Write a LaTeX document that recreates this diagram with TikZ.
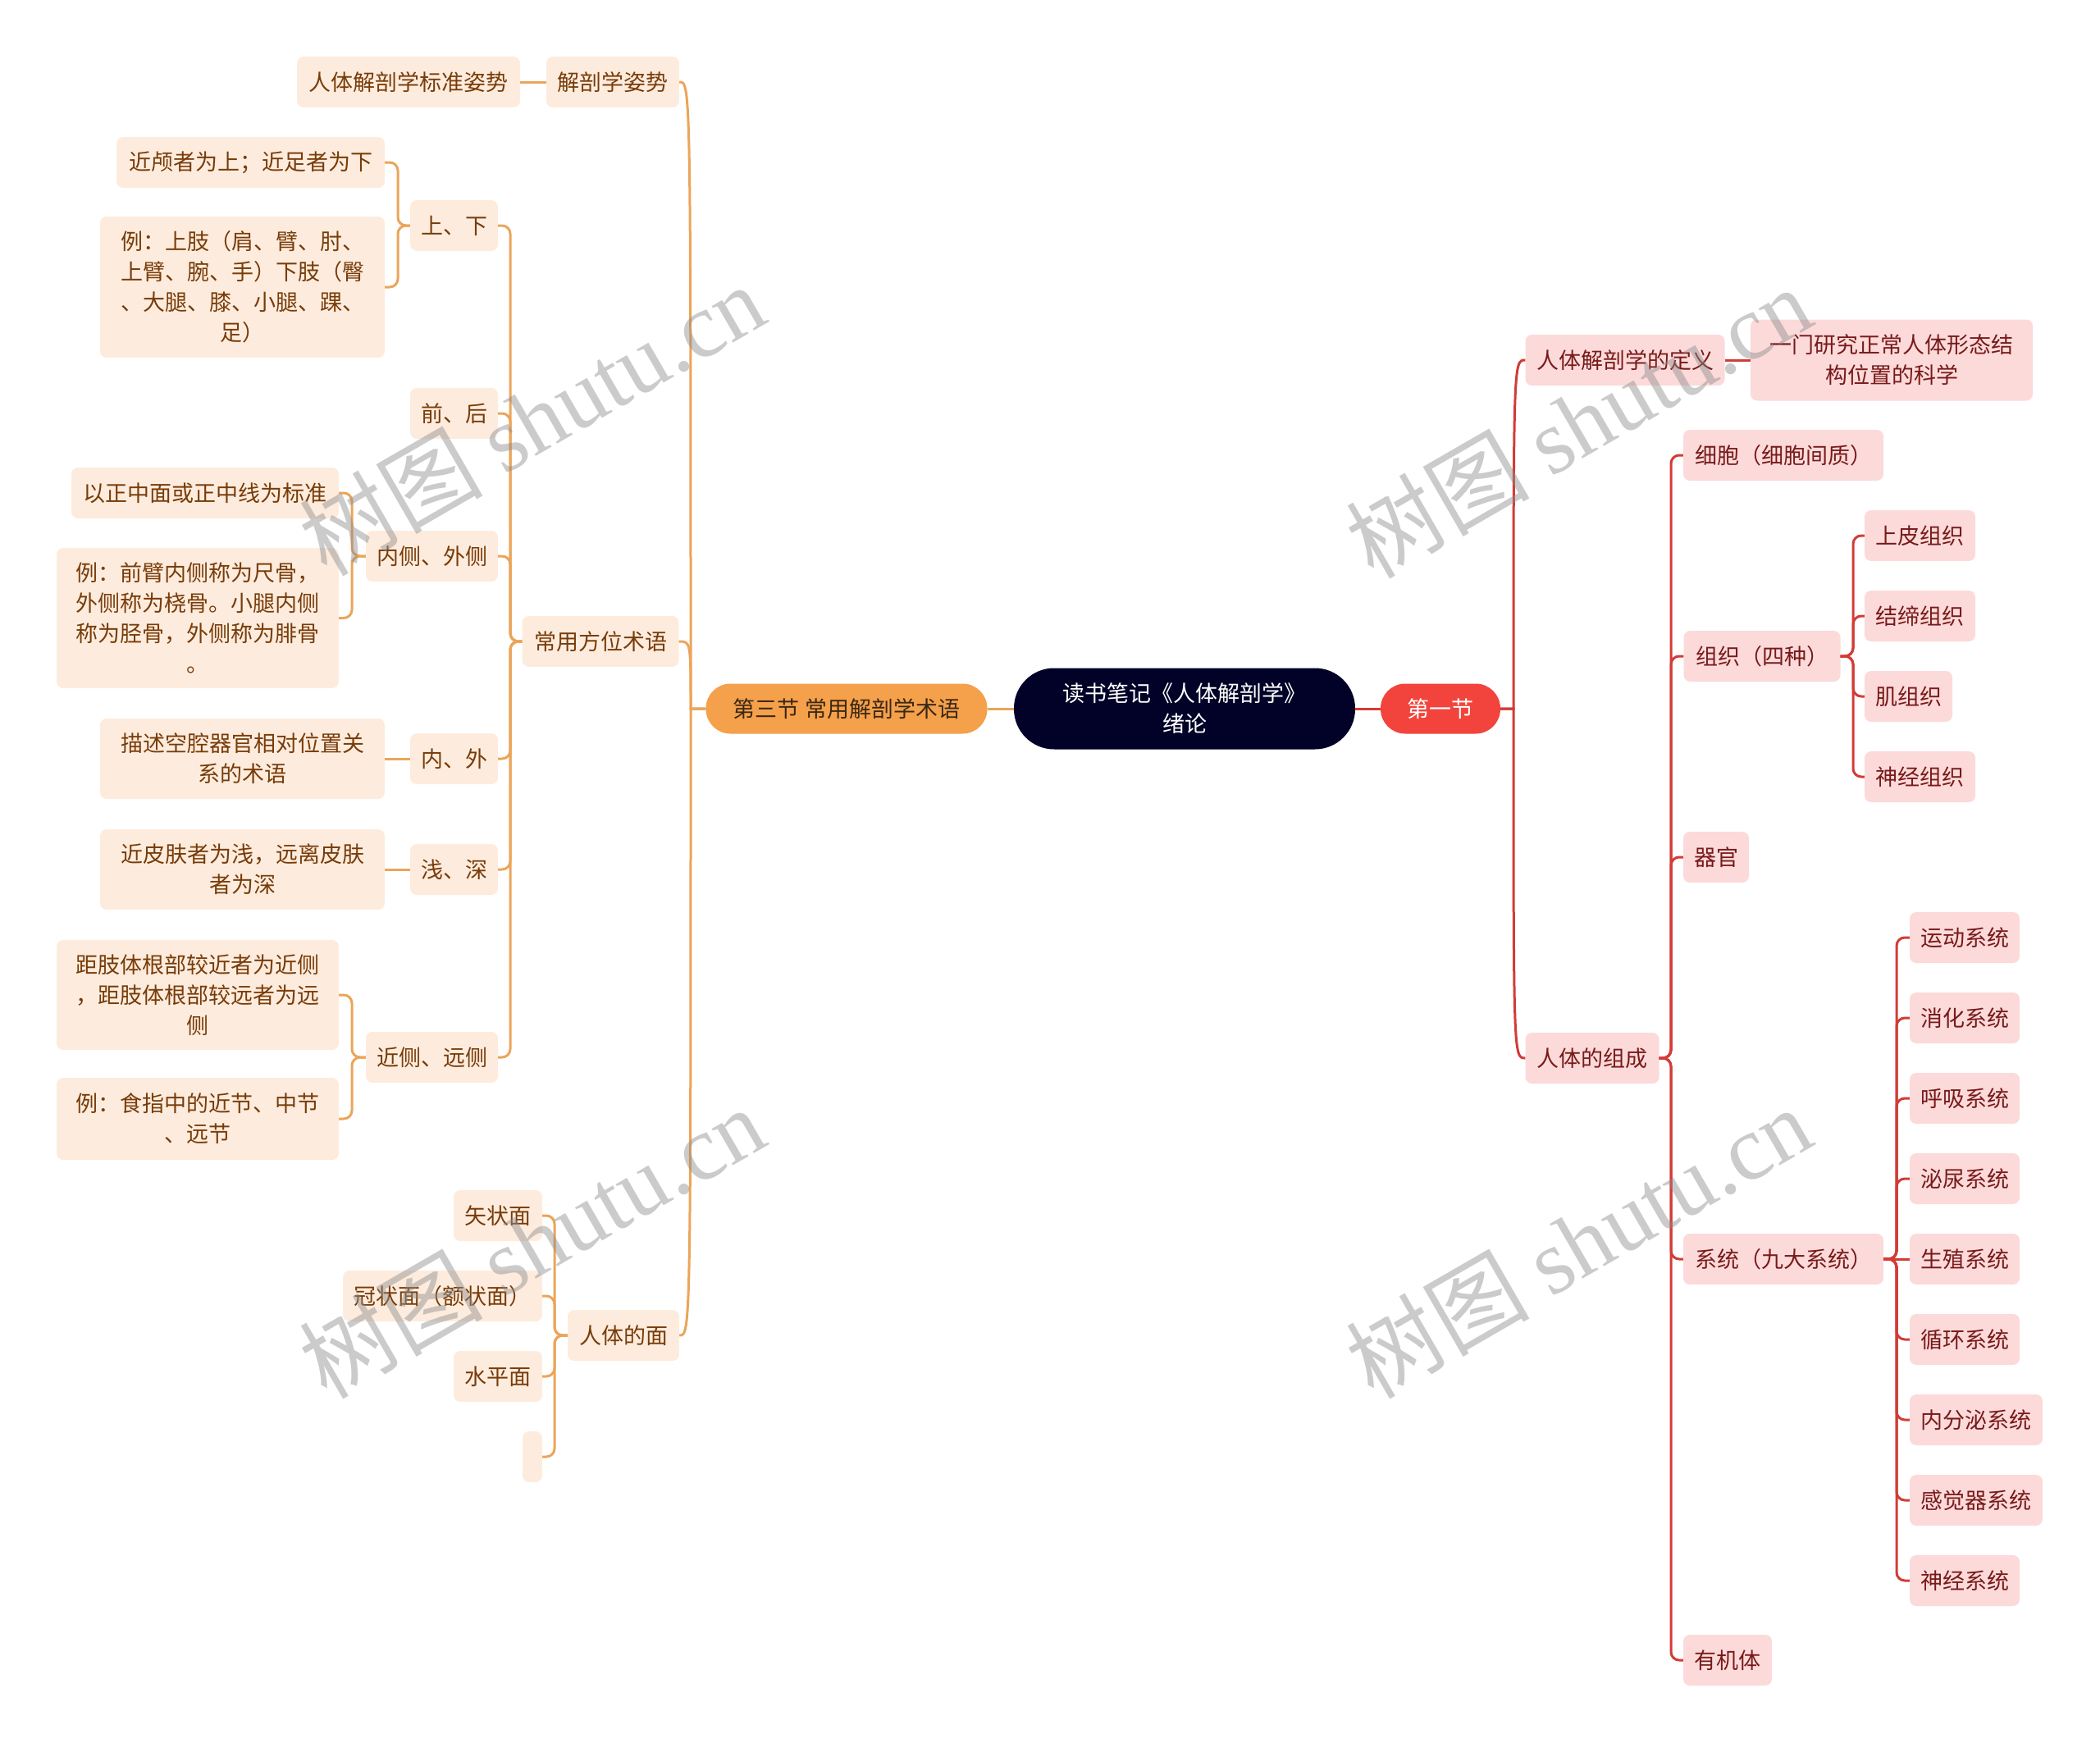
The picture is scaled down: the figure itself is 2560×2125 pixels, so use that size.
\documentclass[tikz,border=0pt]{standalone}
\usepackage{fontspec}
\setmainfont{Noto Sans CJK SC}
\newfontfamily\wmlatin{Liberation Serif}
\usetikzlibrary{calc}
\definecolor{lfill}{HTML}{FDECDD}
\definecolor{ltext}{HTML}{783C0A}
\definecolor{lline}{HTML}{EBA55A}
\definecolor{rfill}{HTML}{FCDADA}
\definecolor{rtext}{HTML}{781A1A}
\definecolor{rline}{HTML}{D23C37}
\definecolor{rootfill}{HTML}{020228}
\definecolor{onefill}{HTML}{F2443C}
\definecolor{threefill}{HTML}{F5A04B}
\definecolor{threetext}{HTML}{3A2814}
\newcommand\mmfs{\fontsize{27}{37}\selectfont}
\begin{document}
\begin{tikzpicture}[x=1pt,y=-1pt,
  basebox/.style={rectangle, inner sep=0pt, align=center, font=\mmfs},
  lbox/.style={basebox, rounded corners=8pt, fill=lfill, text=ltext, minimum height=62},
  rbox/.style={basebox, rounded corners=8pt, fill=rfill, text=rtext, minimum height=62},
  oconn/.style={draw=lline, line width=3pt, rounded corners=10pt},
  rconn/.style={draw=rline, line width=3pt, rounded corners=10pt},
  wm/.style={rotate=30, text=black!45, opacity=0.45, font=\fontsize{112}{112}\selectfont}]
\useasboundingbox (0,0) rectangle (2560,2125);

% central nodes
\node[basebox, fill=rootfill, text=white, rounded corners=49pt, minimum width=416, minimum height=99] (root) at (1444,864) {读书笔记《人体解剖学》\\绪论};
\node[basebox, fill=onefill, text=white, rounded corners=30pt, minimum width=146, minimum height=61] (n1) at (1756,864) {第一节};
\node[basebox, fill=threefill, text=threetext, rounded corners=30pt, minimum width=343, minimum height=61] (n3) at (1032,864) {第三节 常用解剖学术语};

% right side
\node[rbox, minimum width=243] (def) at (1981,439) {人体解剖学的定义};
\node[rbox, minimum width=344, minimum height=99] (defc) at (2306,439) {一门研究正常人体形态结\\构位置的科学};
\node[rbox, minimum width=163] (comp) at (1941,1290) {人体的组成};
\node[rbox, minimum width=244] (cell) at (2174,555) {细胞（细胞间质）};
\node[rbox, minimum width=191] (tis) at (2148,800) {组织（四种）};
\node[rbox, minimum width=80] (org) at (2092,1045) {器官};
\node[rbox, minimum width=244] (sys) at (2174,1535) {系统（九大系统）};
\node[rbox, minimum width=108] (orgm) at (2106,2024) {有机体};
\node[rbox, minimum width=135] (t1) at (2340.5,653) {上皮组织};
\node[rbox, minimum width=135] (t2) at (2340.5,751) {结缔组织};
\node[rbox, minimum width=107] (t3) at (2326.5,849) {肌组织};
\node[rbox, minimum width=135] (t4) at (2340.5,947) {神经组织};
\node[rbox, minimum width=134] (s1) at (2395,1143) {运动系统};
\node[rbox, minimum width=134] (s2) at (2395,1241) {消化系统};
\node[rbox, minimum width=134] (s3) at (2395,1339) {呼吸系统};
\node[rbox, minimum width=134] (s4) at (2395,1437) {泌尿系统};
\node[rbox, minimum width=134] (s5) at (2395,1535) {生殖系统};
\node[rbox, minimum width=134] (s6) at (2395,1633) {循环系统};
\node[rbox, minimum width=162] (s7) at (2409,1731) {内分泌系统};
\node[rbox, minimum width=162] (s8) at (2409,1829) {感觉器系统};
\node[rbox, minimum width=134] (s9) at (2395,1927) {神经系统};

% left side
\node[lbox, minimum width=162] (pos) at (747,100) {解剖学姿势};
\node[lbox, minimum width=272] (posc) at (498,100) {人体解剖学标准姿势};
\node[lbox, minimum width=191] (dir) at (732,782) {常用方位术语};
\node[lbox, minimum width=136] (face) at (760,1628) {人体的面};
\node[lbox, minimum width=107] (ud) at (553.5,275) {上、下};
\node[lbox, minimum width=107] (fb) at (553.5,504) {前、后};
\node[lbox, minimum width=161] (mi) at (526.5,678) {内侧、外侧};
\node[lbox, minimum width=107] (io) at (553.5,925) {内、外};
\node[lbox, minimum width=107] (sd) at (553.5,1060) {浅、深};
\node[lbox, minimum width=161] (pd) at (526.5,1289) {近侧、远侧};
\node[lbox, minimum width=327] (ud1) at (305.5,198) {近颅者为上；近足者为下};
\node[lbox, minimum width=347, minimum height=172] (ud2) at (295.5,350) {例：上肢（肩、臂、肘、\\上臂、腕、手）下肢（臀\\、大腿、膝、小腿、踝、\\足）};
\node[lbox, minimum width=326] (mi1) at (250,601) {以正中面或正中线为标准};
\node[lbox, minimum width=344, minimum height=171] (mi2) at (241,753.5) {例：前臂内侧称为尺骨，\\外侧称为桡骨。小腿内侧\\称为胫骨，外侧称为腓骨\\。};
\node[lbox, minimum width=347, minimum height=98] (io1) at (295.5,925) {描述空腔器官相对位置关\\系的术语};
\node[lbox, minimum width=347, minimum height=98] (sd1) at (295.5,1060) {近皮肤者为浅，远离皮肤\\者为深};
\node[lbox, minimum width=344, minimum height=134] (pd1) at (241,1213) {距肢体根部较近者为近侧\\，距肢体根部较远者为远\\侧};
\node[lbox, minimum width=344, minimum height=100] (pd2) at (241,1364) {例：食指中的近节、中节\\、远节};
\node[lbox, minimum width=108] (f1) at (607,1482) {矢状面};
\node[lbox, minimum width=243] (f2) at (539.5,1580) {冠状面（额状面）};
\node[lbox, minimum width=108] (f3) at (607,1678) {水平面};
\node[lbox, minimum width=24] (f4) at (649,1776) {};

% connectors: centre
\draw[rconn] (root.east) -- (n1.west);
\draw[oconn] (root.west) -- (n3.east);

% level 1 -> 2 (curves)
\coordinate (T1) at (1845,864);
\foreach \c in {def,comp}
  \draw[rconn, rounded corners=0pt] (n1.east) -- (T1) .. controls (T1 |- \c.west) and (T1 |- \c.west) .. (\c.west);
\coordinate (T3) at (842,864);
\foreach \c in {pos,dir,face}
  \draw[oconn, rounded corners=0pt] (n3.west) -- (T3) .. controls (T3 |- \c.east) and (T3 |- \c.east) .. (\c.east);

% right elbows
\draw[rconn] (def.east) -- (defc.west);
\coordinate (Tc) at (2037,1290);
\foreach \c in {cell,tis,org,sys,orgm}
  \draw[rconn] (comp.east) -- (Tc) |- (\c.west);
\coordinate (Tt) at (2259,800);
\foreach \c in {t1,t2,t3,t4}
  \draw[rconn] (tis.east) -- (Tt) |- (\c.west);
\coordinate (Ts) at (2312,1535);
\foreach \c in {s1,s2,s3,s4,s6,s7,s8,s9}
  \draw[rconn] (sys.east) -- (Ts) |- (\c.west);
\draw[rconn] (sys.east) -- (s5.west);

% left elbows
\draw[oconn] (pos.west) -- (posc.east);
\coordinate (Td) at (622,782);
\foreach \c in {ud,fb,mi,io,sd,pd}
  \draw[oconn] (dir.west) -- (Td) |- (\c.east);
\coordinate (Tud) at (485,275);
\foreach \c in {ud1,ud2}
  \draw[oconn] (ud.west) -- (Tud) |- (\c.east);
\coordinate (Tmi) at (429,678);
\foreach \c in {mi1,mi2}
  \draw[oconn] (mi.west) -- (Tmi) |- (\c.east);
\draw[oconn] (io.west) -- (io1.east);
\draw[oconn] (sd.west) -- (sd1.east);
\coordinate (Tpd) at (429,1289);
\foreach \c in {pd1,pd2}
  \draw[oconn] (pd.west) -- (Tpd) |- (\c.east);
\coordinate (Tf) at (676,1628);
\foreach \c in {f1,f2,f3,f4}
  \draw[oconn] (face.west) -- (Tf) |- (\c.east);

% watermarks
\node[wm] (wm1) at (648,511) {树图 {\wmlatin shutu.cn}};
\node[wm] (wm2) at (648,1514) {树图 {\wmlatin shutu.cn}};
\node[wm] (wm3) at (1924,514) {树图 {\wmlatin shutu.cn}};
\node[wm] (wm4) at (1924,1514) {树图 {\wmlatin shutu.cn}};
\end{tikzpicture}
\end{document}
